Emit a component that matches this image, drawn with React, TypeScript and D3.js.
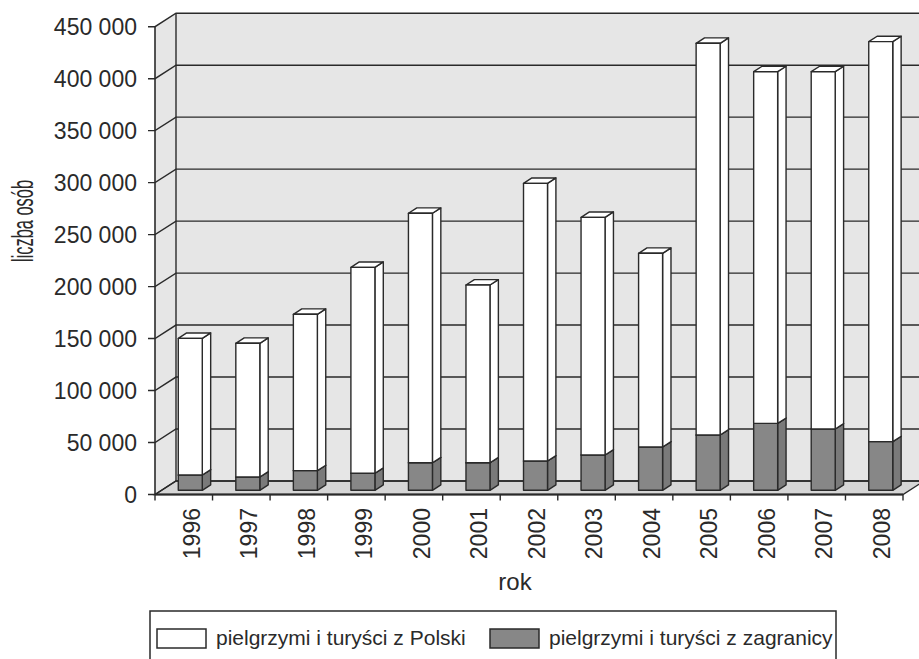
import React from 'react';
import * as d3 from 'd3';

// lata i wartości
const years = ['1996', '1997', '1998', '1999', '2000', '2001', '2002', '2003', '2004', '2005', '2006', '2007', '2008'];
const zagranica = [14700, 12800, 18900, 16400, 26500, 26500, 28200, 34000, 41700, 53200, 64400, 59000, 46800];
const polska = [131500, 128600, 150400, 198100, 240000, 171000, 267100, 228600, 186300, 376800, 338300, 343700, 384800];
const seriesNames = ['pielgrzymi i turyści z Polski', 'pielgrzymi i turyści z zagranicy'];

const W = 919;
const H = 659;
const DX = 21; // głębokość 3D
const DY = -13.5;
const FONT = '"Liberation Sans", Arial, sans-serif';
const INK = '#2a2a2a';

const fmt = d3.formatLocale({ decimal: ',', thousands: ' ', grouping: [3], currency: ['', ''] }).format(',d');

export default function App() {
  const x = d3.scaleBand<string>().domain(years).range([155, 903]).padding(0);
  const y = d3.scaleLinear().domain([0, 450000]).range([494.5, 26.7]);
  const ticks = y.ticks(9);
  const bw = x.bandwidth() * 0.417;
  const f1 = 0.31; // przód słupka
  const f2 = 0.71; // tył słupka
  const [xl, xr] = x.range();
  const yTop = y(450000);
  const y0 = y(0);

  const box = (x0: number, v0: number, v1: number, front: string, side: string, key: string) => {
    const ox = DX * f1, oy = DY * f1;
    const ddx = DX * (f2 - f1), ddy = DY * (f2 - f1);
    const L = x0 + ox, R = L + bw;
    const B = y(v0) + oy, T = y(v1) + oy;
    const pts = (a: number[][]) => a.map((p) => p.join(',')).join(' ');
    return (
      <g key={key} stroke={INK} strokeWidth={1.4} strokeLinejoin="round">
        <polygon points={pts([[R, B], [R + ddx, B + ddy], [R + ddx, T + ddy], [R, T]])} fill={side} />
        <polygon points={pts([[L, T], [R, T], [R + ddx, T + ddy], [L + ddx, T + ddy]])} fill={front === '#ffffff' ? '#ffffff' : side} />
        <rect x={L} y={T} width={bw} height={B - T} fill={front} />
      </g>
    );
  };

  return (
    <svg width={W} height={H} style={{ position: 'absolute', left: 0, top: 0, background: '#fff' }}>
      {/* ściany */}
      <polygon points={`${xl + DX},${yTop + DY} ${xr + DX + 20},${yTop + DY} ${xr + DX + 20},${y0 + DY} ${xl + DX},${y0 + DY}`} fill="#e6e6e6" />
      <polygon points={`${xl},${y0} ${xl},${yTop} ${xl + DX},${yTop + DY} ${xl + DX},${y0 + DY}`} fill="#e6e6e6" />
      <polygon points={`${xl},${y0} ${xr},${y0} ${xr + DX},${y0 + DY} ${xl + DX},${y0 + DY}`} fill="#d6d6d6" stroke={INK} strokeWidth={1.4} />
      {ticks.map((t) => (
        <g key={t} stroke={INK} strokeWidth={1.4} fill="none">
          <polyline points={`${xl - 7},${y(t)} ${xl},${y(t)} ${xl + DX},${y(t) + DY} ${W + 5},${y(t) + DY}`} />
        </g>
      ))}
      <line x1={xl} x2={xl} y1={yTop} y2={y0} stroke={INK} strokeWidth={1.6} />
      <line x1={xl + DX} x2={xl + DX} y1={yTop + DY} y2={y0 + DY} stroke={INK} strokeWidth={1.4} />
      <line x1={xl} x2={xr} y1={y0} y2={y0} stroke={INK} strokeWidth={1.8} />
      {years.concat(['end']).map((yr, i) => {
        const px = i < years.length ? (x(yr) as number) : xr;
        return <line key={'t' + yr} x1={px} x2={px} y1={y0} y2={y0 + 6} stroke={INK} strokeWidth={1.4} />;
      })}

      {/* słupki */}
      {years.map((yr, i) => {
        const x0 = (x(yr) as number) + (x.bandwidth() - bw) / 2;
        return (
          <g key={yr}>
            {box(x0, 0, zagranica[i], '#878787', '#7a7a7a', 'z' + yr)}
            {box(x0, zagranica[i], zagranica[i] + polska[i], '#ffffff', '#ffffff', 'p' + yr)}
          </g>
        );
      })}

      {/* etykiety osi */}
      {ticks.map((t) => (
        <text key={'l' + t} x={137} y={y(t)} dy="0.36em" textAnchor="end" fontFamily={FONT} fontSize={23} fill={INK}>
          {fmt(t)}
        </text>
      ))}
      {years.map((yr) => (
        <text
          key={'y' + yr}
          transform={`translate(${(x(yr) as number) + x.bandwidth() / 2 + 7.5},508) rotate(-90)`}
          dy="0.36em"
          textAnchor="end"
          fontFamily={FONT}
          fontSize={23}
          fill={INK}
        >
          {yr}
        </text>
      ))}
      <text transform="translate(23,221) rotate(-90)" dy="0.36em" textAnchor="middle" fontFamily='"Liberation Sans Narrow", "Arial Narrow", sans-serif' fontSize={29} textLength={82} lengthAdjust="spacingAndGlyphs" fill={INK}>
        liczba osób
      </text>
      <text x={515} y={590} textAnchor="middle" fontFamily={FONT} fontSize={24} fill={INK}>
        rok
      </text>

      {/* legenda */}
      <rect x={150} y={611} width={686} height={70} fill="#fff" stroke={INK} strokeWidth={1.5} />
      {seriesNames.map((name, i) => {
        const sx = i === 0 ? 157 : 490;
        return (
          <g key={name}>
            <rect x={sx} y={629} width={49} height={19} fill={i === 0 ? '#fff' : '#878787'} stroke={INK} strokeWidth={1.5} />
            <text x={sx + 59} y={645} fontFamily={FONT} fontSize={21} fill={INK}>
              {name}
            </text>
          </g>
        );
      })}
    </svg>
  );
}
